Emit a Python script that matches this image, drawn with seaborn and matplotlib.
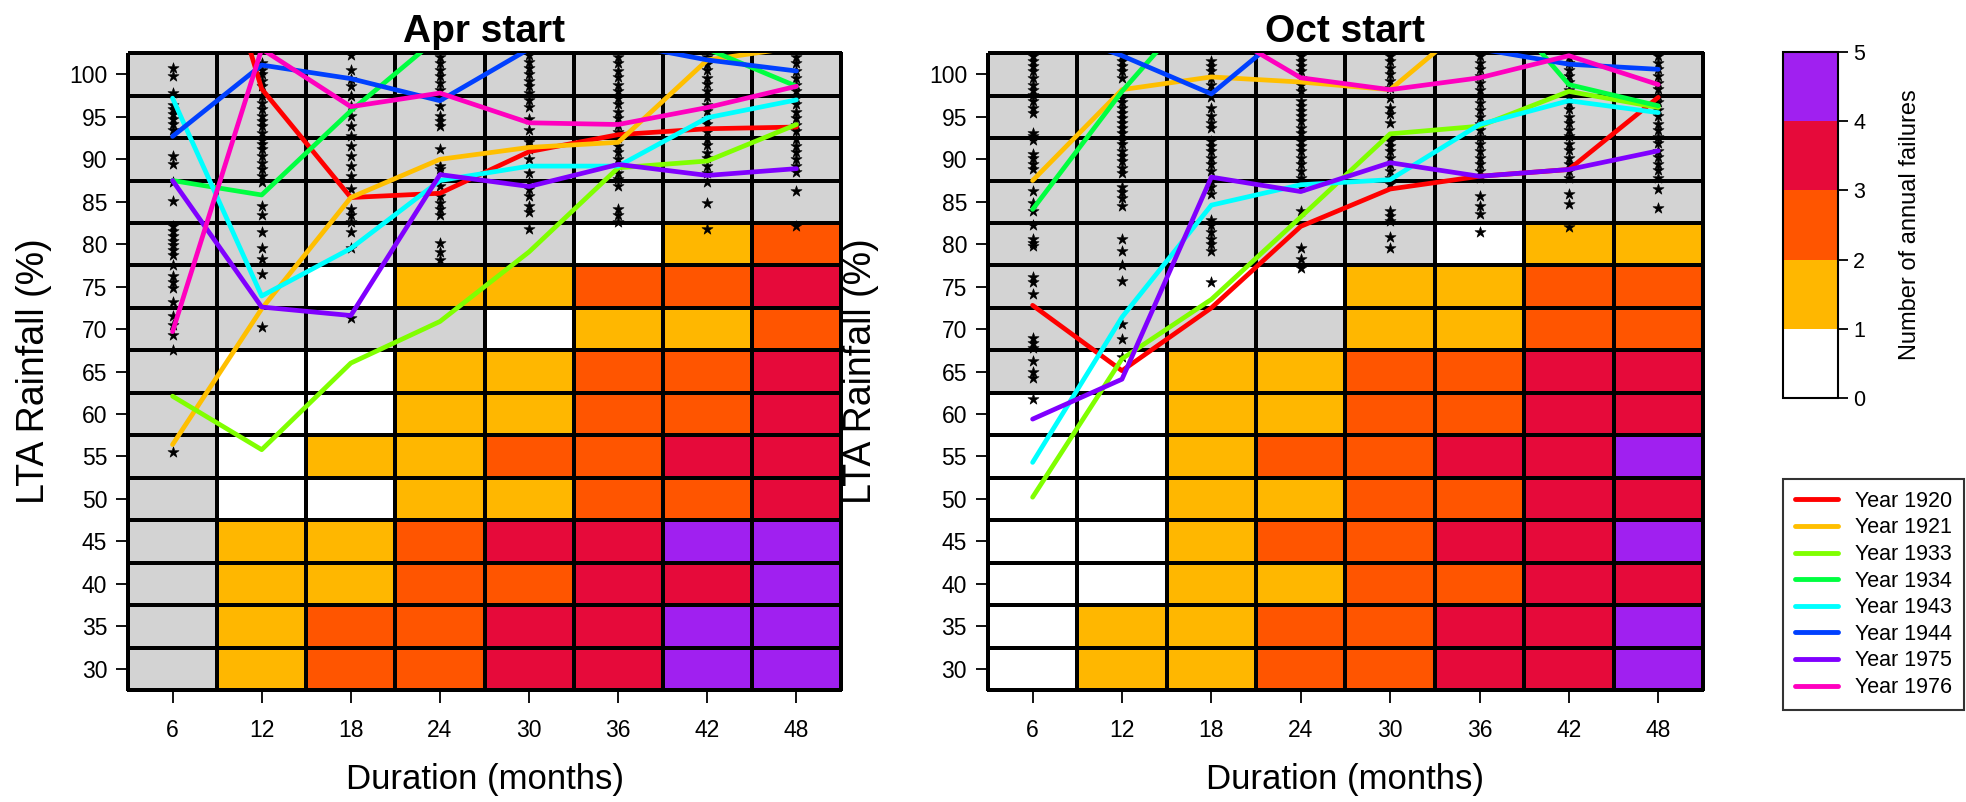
"""Annual failure counts by LTA rainfall threshold and duration, Apr vs Oct start."""

import matplotlib

matplotlib.use("Agg")
import matplotlib.pyplot as plt
import pandas as pd
import seaborn as sns
from matplotlib.cm import ScalarMappable
from matplotlib.colors import ListedColormap, Normalize
from matplotlib.lines import Line2D

durations = [6, 12, 18, 24, 30, 36, 42, 48]
lta_levels = [100, 95, 90, 85, 80, 75, 70, 65, 60, 55, 50, 45, 40, 35, 30]
years = [1920, 1921, 1933, 1934, 1943, 1944, 1975, 1976]
year_colors = ["#FF0000", "#FFBF00", "#80FF00", "#00FF40",
               "#00FFFF", "#0040FF", "#8000FF", "#FF00BF"]
failure_colors = ["#FFFFFF", "#FFB700", "#FF5500", "#E60A3A", "#A020F0"]
grey = "#D3D3D3"

N = None  # grey cell
# rows follow lta_levels (100 at top), columns follow durations
apr_failures = [
    [N, N, N, N, N, N, N, N],
    [N, N, N, N, N, N, N, N],
    [N, N, N, N, N, N, N, N],
    [N, N, N, N, N, N, N, N],
    [N, N, N, N, N, 0, 1, 2],
    [N, N, 0, 1, 1, 2, 2, 3],
    [N, N, N, N, 0, 1, 1, 2],
    [N, 0, 0, 1, 1, 2, 2, 3],
    [N, 0, 0, 1, 1, 2, 2, 3],
    [N, 0, 1, 1, 2, 2, 3, 3],
    [N, 0, 0, 1, 1, 2, 2, 3],
    [N, 1, 1, 2, 3, 3, 4, 4],
    [N, 1, 1, 2, 2, 3, 3, 4],
    [N, 1, 2, 2, 3, 3, 4, 4],
    [N, 1, 2, 2, 3, 3, 4, 4],
]
oct_failures = [
    [N, N, N, N, N, N, N, N],
    [N, N, N, N, N, N, N, N],
    [N, N, N, N, N, N, N, N],
    [N, N, N, N, N, N, N, N],
    [N, N, N, N, N, 0, 1, 1],
    [N, N, 0, 0, 1, 1, 2, 2],
    [N, N, N, N, 1, 1, 2, 2],
    [N, 0, 1, 1, 2, 2, 3, 3],
    [0, 0, 1, 1, 2, 2, 3, 3],
    [0, 0, 1, 2, 2, 3, 3, 4],
    [0, 0, 1, 1, 2, 2, 3, 3],
    [0, 0, 1, 2, 2, 3, 3, 4],
    [0, 0, 1, 1, 2, 2, 3, 3],
    [0, 1, 1, 2, 2, 3, 3, 4],
    [0, 1, 1, 2, 2, 3, 3, 4],
]

# rainfall (% of LTA) of the selected years at each duration
apr_years = {
    1920: [133, 98.3, 85.5, 86.0, 90.9, 92.9, 93.6, 93.8],
    1921: [56.4, 72.4, 85.5, 90.0, 91.4, 92.0, 101.7, 103.2],
    1933: [62.1, 55.8, 66.0, 70.9, 79.1, 89.0, 89.8, 94.1],
    1934: [87.5, 85.8, 95.7, 104.5, 110, 108, 103, 98.6],
    1943: [97.2, 73.9, 79.5, 87.5, 89.2, 89.2, 94.9, 97.0],
    1944: [92.7, 101.1, 99.5, 96.9, 103, 103.7, 101.7, 100.4],
    1975: [87.5, 72.6, 71.6, 88.2, 86.8, 89.4, 88.1, 88.9],
    1976: [69.7, 103, 96.2, 97.8, 94.3, 94.1, 96.1, 98.6],
}
oct_years = {
    1920: [72.8, 65.1, 72.5, 82.1, 86.5, 88.0, 88.8, 97.3],
    1921: [87.5, 98.2, 99.7, 99.1, 98.2, 107, 108, 106],
    1933: [50.2, 66.5, 73.5, 83.2, 93.0, 93.9, 98.0, 96.1],
    1934: [84.1, 98.0, 110, 112, 112, 111, 98.8, 96.3],
    1943: [54.3, 71.4, 84.6, 87.0, 87.6, 94.1, 96.9, 95.5],
    1944: [106, 102.2, 97.7, 106.4, 107, 103, 101.2, 100.6],
    1975: [59.4, 64.1, 87.9, 86.2, 89.6, 88.0, 88.8, 91.0],
    1976: [110, 108, 105.8, 99.6, 98.2, 99.6, 102.2, 98.8],
}

# rainfall of all other years (asterisks), by duration
apr_stars = {
    6: [100.7, 99.8, 97.8, 96.4, 95.9, 95.3, 94.7, 94.1, 93.5, 90.4, 89.4, 87.3,
        85.1, 82.2, 81.6, 81.0, 80.4, 79.9, 79.3, 78.7, 77.5, 76.3, 75.6, 74.8,
        73.2, 71.6, 70.5, 69.3, 67.5, 55.5],
    12: [101.3, 100.5, 100.0, 99.2, 98.6, 97.4, 96.6, 95.9, 95.1, 94.5, 93.9, 93.1,
         92.3, 91.8, 91.2, 90.4, 89.6, 88.8, 88.0, 87.3, 84.5, 83.4, 81.4, 79.5,
         78.3, 76.5, 70.3],
    18: [102.3, 100.5, 99.4, 98.6, 97.4, 96.3, 95.1, 93.9, 92.7, 91.6, 90.4, 89.2,
         88.0, 86.5, 84.1, 83.4, 82.6, 81.4, 79.5, 71.3],
    24: [102.1, 101.3, 100.5, 99.8, 99.0, 98.2, 97.4, 96.3, 95.1, 94.5, 93.9, 91.2,
         89.2, 88.8, 86.9, 85.7, 84.9, 84.1, 83.4, 80.2, 79.1, 78.1],
    30: [102.3, 101.5, 100.7, 100.0, 99.2, 98.6, 97.8, 97.0, 96.2, 94.7, 93.5, 92.3,
         92.0, 91.2, 90.0, 88.4, 87.3, 86.5, 85.7, 84.5, 83.8, 81.8],
    36: [102.1, 101.3, 100.4, 99.7, 98.8, 98.1, 97.2, 96.5, 95.6, 94.9, 94.0, 93.2,
         92.5, 91.6, 90.9, 90.0, 89.3, 88.4, 87.7, 86.9, 84.1, 83.4, 82.6],
    42: [102.0, 101.2, 100.5, 99.6, 98.9, 98.0, 97.3, 96.4, 95.7, 94.8, 94.1, 93.2,
         92.4, 91.7, 90.8, 90.1, 89.2, 88.4, 87.3, 84.9, 81.8],
    48: [102.1, 101.3, 100.4, 99.6, 98.8, 98.1, 97.2, 96.5, 95.6, 94.9, 94.0, 93.3,
         92.4, 91.6, 90.9, 90.0, 89.2, 88.5, 86.3, 82.2],
}
oct_stars = {
    6: [102.2, 101.6, 101.0, 100.4, 99.6, 98.8, 98.2, 97.6, 96.9, 96.1, 95.5, 93.1,
        92.7, 92.3, 90.6, 90.2, 89.4, 88.8, 86.3, 84.9, 83.9, 82.3, 80.6, 80.2,
        79.8, 76.1, 75.5, 74.1, 69.0, 68.4, 67.8, 66.3, 64.9, 64.3, 61.8],
    12: [102.2, 101.6, 101.0, 100.4, 99.6, 97.2, 96.7, 96.1, 95.5, 94.9, 94.3, 93.7,
         93.1, 92.3, 91.8, 91.0, 90.4, 89.8, 89.0, 88.4, 86.7, 86.1, 85.5, 84.5,
         80.6, 79.2, 77.6, 75.7, 70.6, 68.8, 66.7],
    18: [101.6, 101.0, 100.4, 99.6, 98.8, 98.0, 97.3, 96.1, 95.1, 94.3, 93.7, 92.1,
         91.6, 91.0, 90.2, 89.4, 88.6, 87.4, 86.7, 85.9, 82.9, 82.3, 81.4, 80.6,
         80.0, 79.2, 75.5],
    24: [102.2, 101.6, 101.0, 100.4, 99.6, 98.8, 98.0, 96.9, 96.3, 95.7, 95.1, 94.5,
         93.7, 93.1, 92.1, 91.6, 91.0, 90.2, 89.4, 88.6, 87.8, 86.7, 83.9, 79.6,
         78.2, 77.2],
    30: [102.2, 101.6, 100.8, 100.0, 99.2, 98.4, 97.2, 96.1, 95.3, 94.3, 92.1, 91.6,
         91.0, 90.2, 89.4, 88.6, 87.8, 87.1, 83.9, 83.3, 82.7, 80.8, 79.6],
    36: [102.2, 101.4, 100.6, 99.8, 99.0, 98.2, 97.4, 96.6, 95.8, 95.0, 94.2, 93.4,
         92.6, 91.8, 91.0, 90.2, 89.4, 88.6, 87.8, 85.7, 84.5, 83.5, 81.4],
    42: [102.1, 101.4, 100.5, 99.8, 99.1, 98.2, 97.5, 96.6, 95.9, 95.0, 94.3, 93.4,
         92.7, 91.8, 91.1, 90.2, 89.5, 88.6, 87.8, 85.9, 84.7, 82.0],
    48: [102.2, 101.3, 100.6, 99.8, 99.0, 98.3, 97.4, 96.7, 95.8, 95.1, 94.2, 93.5,
         92.6, 91.9, 91.0, 90.3, 89.4, 88.7, 87.8, 86.5, 84.3],
}

sns.set_theme(style="white", rc={"text.color": "black", "axes.labelcolor": "black",
                                  "xtick.color": "black", "ytick.color": "black"})
plt.rcParams["font.family"] = ["Liberation Sans", "DejaVu Sans"]

cell_cmap = ListedColormap([grey] + failure_colors)
palette = dict(zip(years, year_colors))


def draw_panel(ax, failures, year_values, stars, title, ylabel_x):
    grid = pd.DataFrame(failures, index=lta_levels, columns=durations)
    grid = grid.astype(float).fillna(-1)
    sns.heatmap(grid, ax=ax, cmap=cell_cmap, vmin=-1.5, vmax=4.5, cbar=False,
                linewidths=1.5, linecolor="black",
                xticklabels=False, yticklabels=False)
    ax.collections[0].set_clip_on(False)
    ax.set_xlabel("")
    ax.set_ylabel("")
    ax.set_title(title, fontsize=28, fontweight="bold", pad=8)

    over = ax.inset_axes([0, 0, 1, 1])
    over.set_facecolor("none")
    for spine in over.spines.values():
        spine.set_visible(False)

    star_df = pd.DataFrame(
        [(d, v) for d, vals in stars.items() for v in vals], columns=["duration", "lta"]
    )
    sns.scatterplot(data=star_df, x="duration", y="lta", ax=over, marker="*",
                    s=70, color="black", edgecolor="black", linewidth=0.4, zorder=1)

    line_df = pd.DataFrame(
        [(yr, d, v) for yr, vals in year_values.items() for d, v in zip(durations, vals)],
        columns=["year", "duration", "lta"],
    )
    sns.lineplot(data=line_df, x="duration", y="lta", hue="year", palette=palette,
                 ax=over, lw=3.4, legend=False, sort=False, estimator=None, zorder=3)

    over.set_xlim(3, 51)
    over.set_ylim(27.5, 102.5)
    over.set_xticks(durations)
    over.set_yticks(lta_levels)
    over.tick_params(axis="both", which="both", direction="out", length=9, width=1.3,
                     labelsize=16.5, bottom=True, left=True)
    over.tick_params(axis="x", pad=12)
    over.tick_params(axis="y", pad=6)
    over.set_xlabel("Duration (months)", fontsize=25)
    over.set_ylabel("LTA Rainfall (%)", fontsize=27)
    over.xaxis.set_label_coords(0.5, -0.115)
    over.yaxis.set_label_coords(ylabel_x, 0.5)
    over.grid(False)


fig = plt.figure(figsize=(19.66, 8.02), dpi=100)
ax_apr = fig.add_axes([0.0651, 0.1397, 0.3627, 0.794])
ax_oct = fig.add_axes([0.5025, 0.1397, 0.3637, 0.794])

draw_panel(ax_apr, apr_failures, apr_years, apr_stars, "Apr start", -0.106)
draw_panel(ax_oct, oct_failures, oct_years, oct_stars, "Oct start", -0.152)

cax = fig.add_axes([0.9069, 0.504, 0.028, 0.431])
mappable = ScalarMappable(norm=Normalize(0, 5), cmap=ListedColormap(failure_colors))
cb = fig.colorbar(mappable, cax=cax, ticks=range(6))
cb.outline.set_linewidth(1.5)
cb.outline.set_edgecolor("black")
cax.tick_params(direction="out", length=7, width=1.3, labelsize=15.5, pad=4)
cb.set_label("Number of annual failures", fontsize=17, labelpad=24)

handles = [Line2D([0], [0], color=c, lw=3.5) for c in year_colors]
labels = [f"Year {y}" for y in years]
leg = fig.legend(handles, labels, loc="upper left", bbox_to_anchor=(0.9069, 0.4027),
                 frameon=True, fancybox=False, edgecolor="black", fontsize=15.5,
                 handlelength=2.0, handletextpad=0.8, labelspacing=0.26,
                 borderpad=0.55, borderaxespad=0)
leg.get_frame().set_linewidth(1.5)

fig.savefig("out.png", dpi=100, facecolor="white")
